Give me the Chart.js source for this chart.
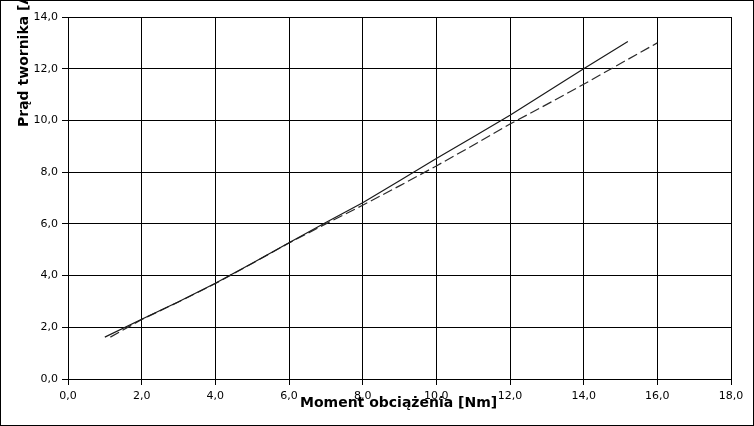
<!DOCTYPE html>
<html>
<head>
<meta charset="utf-8">
<script src="https://cdn.jsdelivr.net/npm/chart.js@4/dist/chart.umd.min.js"></script>
<style>
  body { margin: 0; background: #fff; }
  canvas { display: block; }
</style>
</head>
<body>
<canvas id="motorChart" width="754" height="426"></canvas>
<script>
// solid line
const torqueSolid = [1.0, 2.0, 3.0, 4.0, 5.0, 6.0, 7.0, 8.0, 9.0, 10.0, 11.0, 12.0, 13.0, 14.0, 15.2];
const currentSolid = [1.62, 2.31, 2.99, 3.70, 4.48, 5.27, 6.05, 6.82, 7.67, 8.53, 9.36, 10.2, 11.1, 12.0, 13.05];

// dashed line
const torqueDashed = [1.15, 2.0, 3.0, 4.0, 5.0, 6.0, 7.0, 8.0, 9.0, 10.0, 11.0, 12.0, 13.0, 14.0, 15.0, 16.0];
const currentDashed = [1.62, 2.3, 2.98, 3.69, 4.47, 5.26, 6.0, 6.72, 7.47, 8.24, 9.04, 9.86, 10.62, 11.4, 12.2, 13.0];

const xTicks = [0, 2, 4, 6, 8, 10, 12, 14, 16, 18];
const yTicks = [0, 2, 4, 6, 8, 10, 12, 14];

const xTitle = "Moment obciążenia [Nm]";
const yTitle = "Prąd twornika [A]";

function toPoints(xs, ys) {
  return xs.map((x, i) => ({ x: x, y: ys[i] }));
}

function fmt(v) {
  return Number(v).toFixed(1).replace(".", ",");
}

// white background, outer frame and the two axis titles
const framePlugin = {
  id: "frame",
  beforeDraw(chart) {
    const c = chart.ctx;
    c.save();
    c.fillStyle = "#fff";
    c.fillRect(0, 0, chart.width, chart.height);
    c.restore();
  },
  afterDraw(chart) {
    const c = chart.ctx;
    c.save();
    c.strokeStyle = "#000";
    c.lineWidth = 1;
    c.strokeRect(0.5, 0.5, chart.width - 1, chart.height - 1);

    c.fillStyle = "#000";
    c.font = "bold 14px 'DejaVu Sans'";
    c.textAlign = "left";
    c.textBaseline = "alphabetic";
    c.fillText(xTitle, 300, 407);

    c.translate(28, 127);
    c.rotate(-Math.PI / 2);
    c.fillText(yTitle, 0, 0);
    c.restore();
  },
};

const ctx = document.getElementById("motorChart");

new Chart(ctx, {
  type: "scatter",
  data: {
    datasets: [
      {
        data: toPoints(torqueSolid, currentSolid),
        showLine: true,
        borderColor: "#1a1a1a",
        borderWidth: 1.2,
        pointRadius: 0,
        tension: 0,
      },
      {
        data: toPoints(torqueDashed, currentDashed),
        showLine: true,
        borderColor: "#2a2a2a",
        borderWidth: 1.2,
        borderDash: [10, 4],
        pointRadius: 0,
        tension: 0,
      },
    ],
  },
  options: {
    responsive: false,
    animation: false,
    devicePixelRatio: 1,
    layout: {
      padding: { left: 0, top: 17, right: 23, bottom: 0 },
    },
    plugins: {
      legend: { display: false },
      tooltip: { enabled: false },
    },
    scales: {
      x: {
        type: "linear",
        min: 0,
        max: 18,
        afterBuildTicks: (s) => {
          s.ticks = xTicks.map((v) => ({ value: v }));
        },
        afterFit: (s) => {
          s.height = 47;
        },
        grid: { color: "#000", lineWidth: 1, tickLength: 6 },
        border: { color: "#000", width: 1 },
        ticks: {
          color: "#000",
          padding: 5,
          maxRotation: 0,
          font: { family: "DejaVu Sans", size: 11 },
          callback: (v) => fmt(v),
        },
      },
      y: {
        type: "linear",
        min: 0,
        max: 14,
        afterBuildTicks: (s) => {
          s.ticks = yTicks.map((v) => ({ value: v }));
        },
        afterFit: (s) => {
          s.width = 68;
        },
        grid: { color: "#000", lineWidth: 1, tickLength: 6 },
        border: { color: "#000", width: 1 },
        ticks: {
          color: "#000",
          padding: 4,
          font: { family: "DejaVu Sans", size: 11 },
          callback: (v) => fmt(v),
        },
      },
    },
  },
  plugins: [framePlugin],
});
</script>
</body>
</html>
